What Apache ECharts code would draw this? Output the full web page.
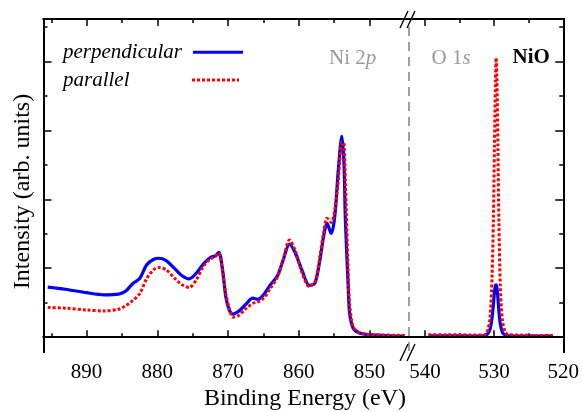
<!DOCTYPE html>
<html>
<head>
<meta charset="utf-8">
<script src="https://cdn.jsdelivr.net/npm/echarts@6/dist/echarts.min.js"></script>
<style>
  html, body { margin: 0; padding: 0; background: #fff; }
  #chart { width: 582px; height: 412px; }
</style>
</head>
<body>
<div id="chart"></div>
<script>
// Ni 2p region (binding energy, eV)
const niEnergy = [895.5, 893, 890, 887.5, 885.5, 884.5, 883.5, 882.5, 881.5, 880.5, 879.8, 878.8, 877.5, 876.5, 875.5, 874.5, 873.5, 872.5, 871.8, 871.3, 870.8, 870.3, 869.8, 869.3, 868.5, 867.5, 866.5, 865.8, 865.0, 864.0, 863.0, 862.2, 861.3, 860.5, 859.5, 858.5, 857.7, 857.0, 856.5, 856.0, 855.4, 854.9, 854.4, 853.9, 853.6, 853.4, 853.0, 852.8, 852.3, 851.5, 850.5, 849, 847, 845];
const niPerp = [1.45, 1.39, 1.29, 1.23, 1.25, 1.33, 1.55, 1.70, 2.10, 2.26, 2.29, 2.23, 1.98, 1.78, 1.69, 1.85, 2.12, 2.31, 2.36, 2.46, 2.00, 1.15, 0.78, 0.67, 0.75, 0.95, 1.13, 1.10, 1.22, 1.52, 1.78, 2.24, 2.70, 2.45, 1.92, 1.50, 1.57, 2.24, 2.90, 3.30, 3.01, 3.50, 4.85, 5.83, 5.04, 3.40, 1.47, 0.70, 0.26, 0.13, 0.08, 0.06, 0.04, 0.03];
const niPara = [0.86, 0.84, 0.79, 0.76, 0.81, 0.91, 1.06, 1.26, 1.70, 1.96, 2.02, 1.96, 1.70, 1.52, 1.44, 1.66, 2.05, 2.27, 2.34, 2.43, 1.95, 1.25, 0.82, 0.58, 0.63, 0.82, 0.98, 1.02, 1.12, 1.42, 1.75, 2.24, 2.82, 2.52, 1.85, 1.47, 1.60, 2.34, 3.00, 3.45, 3.33, 3.70, 4.55, 5.65, 5.60, 4.50, 1.90, 0.95, 0.30, 0.14, 0.09, 0.07, 0.06, 0.05];

// O 1s region
const oEnergy = [539.5, 537, 535, 533, 531.5, 531.0, 530.6, 530.3, 530.1, 529.95, 529.8, 529.7, 529.6, 529.45, 529.3, 529.1, 528.8, 528.4, 528.0, 526, 524, 521.5];
const oPerp = [0.04, 0.04, 0.04, 0.03, 0.04, 0.08, 0.22, 0.55, 0.95, 1.30, 1.50, 1.52, 1.45, 1.15, 0.75, 0.38, 0.14, 0.06, 0.04, 0.03, 0.03, 0.03];
const oPara = [0.07, 0.07, 0.07, 0.06, 0.06, 0.15, 0.55, 1.7, 3.4, 5.5, 7.4, 8.1, 7.6, 5.6, 3.3, 1.5, 0.5, 0.15, 0.08, 0.06, 0.05, 0.05];

// tick labels
const niMajor = [890, 880, 870, 860, 850];
const niMinor = [895, 885, 875, 865, 855];
const oMajor = [540, 530, 520];
const oMinor = [535, 525];
const yMajor = [0, 2, 4, 6, 8];
const yMinor = [1, 3, 5, 7, 9];

const FONT = '"Liberation Serif", "Times New Roman", serif';
const BLUE = '#0000ff';
const RED = '#ff0000';

const zip = (xs, ys) => xs.map((x, i) => [x, ys[i]]);

function xAxisDef(grid, min, max, pos, ticks, len, labels) {
  return {
    type: 'value', gridIndex: grid, inverse: true, min: min, max: max, position: pos,
    axisLine: { show: true, lineStyle: { color: '#000', width: 2 } },
    axisTick: { show: true, inside: true, length: len, customValues: ticks, lineStyle: { color: '#000', width: 1.5 } },
    axisLabel: labels ? { show: true, customValues: labels, color: '#000', fontFamily: FONT, fontSize: 21, margin: 10 } : { show: false },
    splitLine: { show: false }
  };
}

function yAxisDef(grid, pos, ticks, len) {
  return {
    type: 'value', gridIndex: grid, min: -0.43, max: 9.23, position: pos,
    axisLine: { show: true, lineStyle: { color: '#000', width: 2 } },
    axisTick: { show: true, inside: true, length: len, customValues: ticks, lineStyle: { color: '#000', width: 1.5 } },
    axisLabel: { show: false },
    splitLine: { show: false }
  };
}

const zeroLine = {
  silent: true, symbol: 'none', label: { show: false },
  lineStyle: { color: '#000', width: 1.8, type: 'solid' },
  data: [{ yAxis: 0 }]
};

const chart = echarts.init(document.getElementById('chart'));
chart.setOption({
  animation: false,
  backgroundColor: '#fff',
  textStyle: { fontFamily: FONT },
  grid: [
    { left: 43.5, top: 19, width: 365.5, height: 333 },
    { left: 409, top: 19, width: 157.5, height: 333 }
  ],
  xAxis: [
    xAxisDef(0, 844.4, 896.1, 'bottom', niMajor, 7, niMajor),
    xAxisDef(0, 844.4, 896.1, 'bottom', niMinor, 4),
    xAxisDef(0, 844.4, 896.1, 'top', niMajor, 7),
    xAxisDef(0, 844.4, 896.1, 'top', niMinor, 4),
    xAxisDef(1, 520, 542.3, 'bottom', oMajor, 7, oMajor),
    xAxisDef(1, 520, 542.3, 'bottom', oMinor, 4),
    xAxisDef(1, 520, 542.3, 'top', oMajor, 7),
    xAxisDef(1, 520, 542.3, 'top', oMinor, 4)
  ],
  yAxis: [
    yAxisDef(0, 'left', yMajor, 8),
    yAxisDef(0, 'left', yMinor, 4),
    yAxisDef(1, 'right', yMajor, 8),
    yAxisDef(1, 'right', yMinor, 4)
  ],
  series: [
    {
      name: 'perpendicular', type: 'line', xAxisIndex: 0, yAxisIndex: 0,
      data: zip(niEnergy, niPerp), showSymbol: false, smooth: 0.3,
      lineStyle: { color: BLUE, width: 3.2 }, markLine: zeroLine
    },
    {
      name: 'parallel', type: 'line', xAxisIndex: 0, yAxisIndex: 0,
      data: zip(niEnergy, niPara), showSymbol: false, smooth: 0.3,
      lineStyle: { color: RED, width: 3, type: [3, 2] }
    },
    {
      name: 'perpendicular', type: 'line', xAxisIndex: 4, yAxisIndex: 2,
      data: zip(oEnergy, oPerp), showSymbol: false, smooth: 0.3,
      lineStyle: { color: BLUE, width: 3.2 }, markLine: zeroLine
    },
    {
      name: 'parallel', type: 'line', xAxisIndex: 4, yAxisIndex: 2,
      data: zip(oEnergy, oPara), showSymbol: false, smooth: 0.3,
      lineStyle: { color: RED, width: 3, type: [3, 2] }
    }
  ],
  graphic: [
    // axis titles
    { type: 'text', x: 305, y: 399, style: { text: 'Binding Energy (eV)', font: '24px "Liberation Serif"', fill: '#000', textAlign: 'center', textVerticalAlign: 'middle' } },
    { type: 'text', x: 23, y: 191.5, rotation: Math.PI / 2, style: { text: 'Intensity (arb. units)', font: '24px "Liberation Serif"', fill: '#000', textAlign: 'center', textVerticalAlign: 'middle' } },
    // legend
    { type: 'text', x: 63, y: 52, style: { text: 'perpendicular', font: 'italic 21px "Liberation Serif"', fill: '#000', textVerticalAlign: 'middle' } },
    { type: 'line', shape: { x1: 193, y1: 52.3, x2: 243, y2: 52.3 }, style: { stroke: BLUE, lineWidth: 3 } },
    { type: 'text', x: 63, y: 80, style: { text: 'parallel', font: 'italic 21px "Liberation Serif"', fill: '#000', textVerticalAlign: 'middle' } },
    { type: 'line', shape: { x1: 192, y1: 80, x2: 239, y2: 80 }, style: { stroke: RED, lineWidth: 3, lineDash: [3, 2] } },
    // region labels
    { type: 'text', x: 329, y: 58, style: { text: 'Ni 2{i|p}', rich: { i: { fontStyle: 'italic', fontSize: 21, fontFamily: 'Liberation Serif', fill: '#999' } }, font: '21px "Liberation Serif"', fill: '#999', textVerticalAlign: 'middle' } },
    { type: 'text', x: 431.5, y: 58, style: { text: 'O 1{i|s}', rich: { i: { fontStyle: 'italic', fontSize: 21, fontFamily: 'Liberation Serif', fill: '#999' } }, font: '21px "Liberation Serif"', fill: '#999', textVerticalAlign: 'middle' } },
    { type: 'text', x: 512.5, y: 58, style: { text: 'NiO', font: 'bold 21px "Liberation Serif"', fill: '#000', textVerticalAlign: 'middle' } },
    // axis break
    { type: 'line', shape: { x1: 409, y1: 27, x2: 409, y2: 351 }, style: { stroke: '#888', lineWidth: 1.6, lineDash: [9, 6] } },
    { type: 'line', shape: { x1: 400, y1: 28, x2: 408, y2: 11 }, style: { stroke: '#000', lineWidth: 1.4 } },
    { type: 'line', shape: { x1: 407, y1: 28, x2: 415, y2: 11 }, style: { stroke: '#000', lineWidth: 1.4 } },
    { type: 'line', shape: { x1: 400, y1: 361, x2: 408, y2: 344 }, style: { stroke: '#000', lineWidth: 1.4 } },
    { type: 'line', shape: { x1: 407, y1: 361, x2: 415, y2: 344 }, style: { stroke: '#000', lineWidth: 1.4 } }
  ]
});
</script>
</body>
</html>
